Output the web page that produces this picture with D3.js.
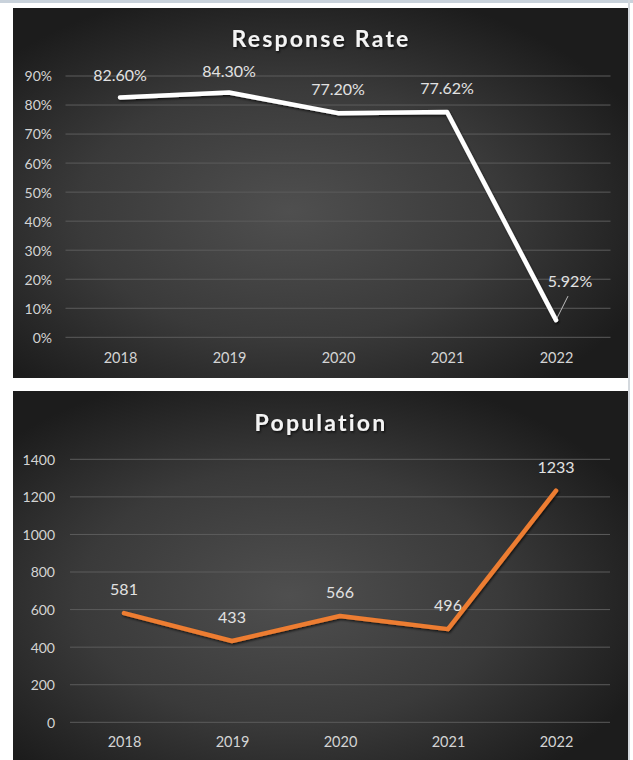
<!DOCTYPE html>
<html>
<head>
<meta charset="utf-8">
<script src="https://cdn.jsdelivr.net/npm/d3@7/dist/d3.min.js"></script>
<style>
  html, body { margin: 0; padding: 0; background: #ffffff; }
  svg { display: block; }
  text { font-family: Lato, "Open Sans", sans-serif; }
</style>
</head>
<body>
<svg id="chart" width="633" height="760"></svg>
<script>
// Survey figures by year
const years = ["2018", "2019", "2020", "2021", "2022"];
const responseRate = [0.826, 0.843, 0.772, 0.7762, 0.0592];
const responseLabels = ["82.60%", "84.30%", "77.20%", "77.62%", "5.92%"];
const population = [581, 433, 566, 496, 1233];
const rateTicks = [0, 0.1, 0.2, 0.3, 0.4, 0.5, 0.6, 0.7, 0.8, 0.9];
const popTicks = [0, 200, 400, 600, 800, 1000, 1200, 1400];

const svg = d3.select("#chart");
const defs = svg.append("defs");

// dark panel fill, lighter toward the middle
const grad = defs.append("radialGradient")
  .attr("id", "panelFill")
  .attr("cx", "45%").attr("cy", "55%").attr("r", "62%");
grad.append("stop").attr("offset", "0%").attr("stop-color", "#4f4f4f");
grad.append("stop").attr("offset", "55%").attr("stop-color", "#3a3a3a");
grad.append("stop").attr("offset", "100%").attr("stop-color", "#1c1c1c");

const shadow = defs.append("filter").attr("id", "soft")
  .attr("x", "-10%").attr("y", "-10%").attr("width", "130%").attr("height", "140%");
shadow.append("feDropShadow").attr("dx", 1).attr("dy", 1.5)
  .attr("stdDeviation", 1.2).attr("flood-color", "#000").attr("flood-opacity", 0.7);

// page edges
svg.append("rect").attr("x", 0).attr("y", 0).attr("width", 633).attr("height", 3).attr("fill", "#c9d2db");
svg.append("rect").attr("x", 628).attr("y", 0).attr("width", 2).attr("height", 760).attr("fill", "#d4d9de");

function panel(opts) {
  const g = svg.append("g");
  g.append("rect")
    .attr("x", opts.box[0]).attr("y", opts.box[1])
    .attr("width", opts.box[2]).attr("height", opts.box[3])
    .attr("fill", "url(#panelFill)");

  const x = d3.scalePoint().domain(years).range(opts.xRange).padding(0.5);
  const y = d3.scaleLinear().domain(opts.yDomain).range(opts.yRange);

  // gridlines
  g.append("g").selectAll("line").data(opts.ticks).join("line")
    .attr("x1", opts.xRange[0]).attr("x2", opts.xRange[1])
    .attr("y1", d => y(d)).attr("y2", d => y(d))
    .attr("stroke", "#5c5c5c").attr("stroke-width", 1);

  // value axis
  const yAxis = d3.axisLeft(y).tickValues(opts.ticks).tickFormat(opts.tickFmt).tickSize(0).tickPadding(0);
  const ya = g.append("g").attr("transform", `translate(${opts.yLabelX},0)`).call(yAxis);
  ya.select(".domain").remove();
  ya.selectAll("text").attr("fill", "#d4d4d4").attr("font-size", 14)
    .attr("font-family", "Lato, sans-serif").attr("dy", "0.35em");

  // category axis
  const xAxis = d3.axisBottom(x).tickSize(0).tickPadding(0);
  const xa = g.append("g").attr("transform", `translate(0,${opts.xLabelY})`).call(xAxis);
  xa.select(".domain").remove();
  xa.selectAll("text").attr("fill", "#d4d4d4").attr("font-size", 14.5)
    .attr("font-family", "Lato, sans-serif").attr("dy", 0);

  // title
  g.append("text")
    .attr("x", opts.titleX).attr("y", opts.titleY)
    .attr("text-anchor", "middle")
    .attr("fill", "#f4f4f4").attr("font-size", 23).attr("font-weight", 700)
    .attr("letter-spacing", 2.2)
    .attr("filter", "url(#soft)")
    .text(opts.title);

  // series line
  const line = d3.line().x((d, i) => x(years[i])).y(d => y(d));
  g.append("path").datum(opts.values)
    .attr("d", line)
    .attr("fill", "none")
    .attr("stroke", opts.color).attr("stroke-width", 4.5)
    .attr("stroke-linejoin", "round").attr("stroke-linecap", "round")
    .attr("filter", "url(#soft)");

  // data labels
  opts.values.forEach((v, i) => {
    const off = opts.labelOffset(i);
    const px = x(years[i]), py = y(v);
    if (off.leader) {
      g.append("line")
        .attr("x1", px + off.leader[0]).attr("y1", py + off.leader[1])
        .attr("x2", px + 1).attr("y2", py - 2)
        .attr("stroke", "#bdbdbd").attr("stroke-width", 1);
    }
    g.append("text")
      .attr("x", px + off.dx).attr("y", py + off.dy)
      .attr("text-anchor", "middle")
      .attr("fill", "#e2e2e2").attr("font-size", 16)
      .text(opts.labels[i]);
  });
}

panel({
  box: [13, 8, 615, 370],
  xRange: [65.5, 610.5],
  yDomain: [0, 0.9], yRange: [337.3, 76],
  ticks: rateTicks,
  tickFmt: d => Math.round(d * 100) + "%",
  yLabelX: 52,
  xLabelY: 363,
  title: "Response Rate", titleX: 321, titleY: 47,
  color: "#ffffff",
  values: responseRate,
  labels: responseLabels,
  labelOffset: i => {
    if (i === 4) return { dx: 14, dy: -33, leader: [12, -24] };
    if (i === 0) return { dx: 0, dy: -16 };
    if (i === 1) return { dx: 0, dy: -16 };
    return { dx: 0, dy: -18 };
  }
});

panel({
  box: [13, 391, 615, 372],
  xRange: [70, 610],
  yDomain: [0, 1400], yRange: [722.3, 459.3],
  ticks: popTicks,
  tickFmt: d => d,
  yLabelX: 55,
  xLabelY: 747,
  title: "Population", titleX: 321, titleY: 431,
  color: "#ed7d31",
  values: population,
  labels: population.map(String),
  labelOffset: i => ({ dx: 0, dy: -18 })
});
</script>
</body>
</html>
